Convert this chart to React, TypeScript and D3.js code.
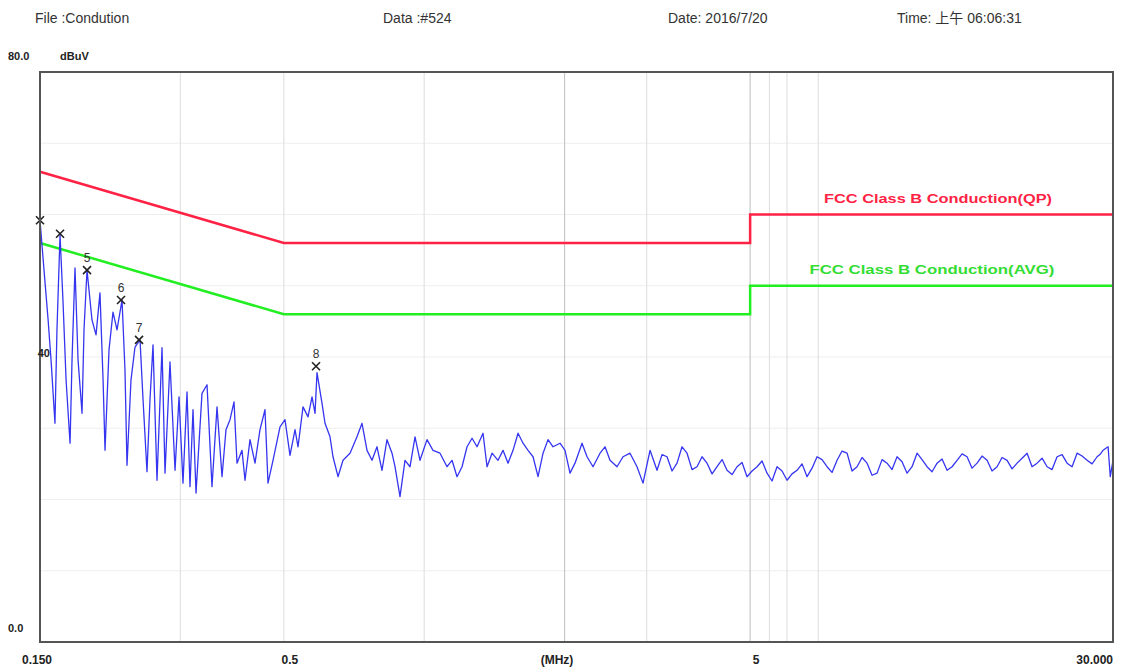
import * as d3 from 'd3';

const W = 1125;
const H = 670;
const margin = { top: 72, right: 12, bottom: 28, left: 40 };

// header of the receiver printout
const headerLabels = ['File :Condution', 'Data :#524', 'Date: 2016/7/20', 'Time: 上午 06:06:31'];

const traceMHz = [
  0.15, 0.153, 0.156, 0.1584, 0.1615, 0.1631, 0.1656, 0.168, 0.1706, 0.174, 0.1757, 0.1783,
  0.181, 0.1846, 0.1864, 0.1892, 0.1939, 0.1978, 0.2017, 0.2048, 0.2068, 0.2109, 0.2151, 0.2194,
  0.2249, 0.2282, 0.2305, 0.2351, 0.2398, 0.2458, 0.2495, 0.2544, 0.2582, 0.2621, 0.2673, 0.274,
  0.2781, 0.285, 0.2922, 0.298, 0.3039, 0.31, 0.3146, 0.3193, 0.3241, 0.3338, 0.3422, 0.3507,
  0.3595, 0.3685, 0.3758, 0.3833, 0.391, 0.3968, 0.4067, 0.4128, 0.4231, 0.4337, 0.4445, 0.4556,
  0.4624, 0.474, 0.4907, 0.5029, 0.5155, 0.5284, 0.5363, 0.5497, 0.5634, 0.5747, 0.5833, 0.589,
  0.6038, 0.6128, 0.6281, 0.6374, 0.6534, 0.6697, 0.6933, 0.7176, 0.7356, 0.754, 0.7728, 0.7921,
  0.8119, 0.8322, 0.8531, 0.8658, 0.8874, 0.9096, 0.9324, 0.9557, 0.9795, 1.014, 1.0444, 1.0812,
  1.1193, 1.1473, 1.176, 1.2054, 1.2356, 1.2665, 1.2981, 1.337, 1.3638, 1.3979, 1.4399, 1.4759,
  1.5128, 1.5506, 1.5894, 1.6291, 1.6699, 1.7116, 1.7544, 1.7983, 1.8432, 1.8893, 1.9554, 2.0043,
  2.0544, 2.1058, 2.18, 2.2345, 2.3016, 2.3826, 2.4422, 2.5032, 2.5911, 2.6693, 2.763, 2.8602,
  2.946, 3.0499, 3.157, 3.236, 3.317, 3.4, 3.485, 3.572, 3.6614, 3.753, 3.8467, 3.943,
  4.0415, 4.143, 4.2461, 4.353, 4.461, 4.573, 4.6869, 4.804, 4.9242, 5.047, 5.1735, 5.303,
  5.4354, 5.571, 5.7105, 5.853, 5.9997, 6.149, 6.3033, 6.461, 6.6225, 6.788, 6.9578, 7.131,
  7.31, 7.492, 7.68, 7.872, 8.0688, 8.27, 8.4773, 8.689, 8.9066, 9.129, 9.3575, 9.591,
  9.8312, 10.076, 10.329, 10.586, 10.852, 11.122, 11.401, 11.685, 11.978, 12.277, 12.585, 12.898,
  13.222, 13.551, 13.891, 14.237, 14.595, 14.958, 15.334, 15.715, 16.11, 16.511, 16.926, 17.347,
  17.783, 18.225, 18.683, 19.147, 19.629, 20.117, 20.622, 21.135, 21.666, 22.205, 22.763, 23.329,
  23.915, 24.51, 25.126, 25.751, 26.398, 27.055, 27.735, 28.2, 28.56, 29.28, 29.6, 30.0,
];
const traceDb = [
  59.2, 52.2, 45.5, 39.6, 30.7, 43.8, 57.1, 48.0, 36.8, 27.9, 39.6, 52.5,
  39.6, 32.1, 43.8, 52.2, 45.2, 43.1, 49.0, 36.8, 26.9, 41.0, 46.3, 43.8,
  48.0, 38.2, 24.8, 36.8, 41.4, 42.4, 34.0, 23.9, 34.0, 41.7, 22.7, 41.3,
  23.7, 39.3, 24.1, 34.4, 22.3, 35.1, 21.8, 32.6, 20.9, 34.9, 36.1, 21.8,
  33.0, 23.2, 29.8, 31.2, 33.7, 25.1, 26.9, 22.7, 28.4, 25.1, 29.8, 32.6,
  22.3, 25.5, 30.2, 31.2, 26.2, 29.8, 27.4, 33.0, 31.6, 34.4, 32.1, 37.8,
  33.5, 30.7, 28.8, 26.0, 23.2, 25.5, 26.5, 28.8, 30.7, 26.9, 25.5, 27.4,
  24.1, 28.4, 26.5, 24.6, 20.4, 25.5, 24.6, 28.8, 25.5, 28.4, 26.9, 26.5,
  24.6, 25.5, 23.2, 24.6, 27.4, 28.6, 27.4, 29.3, 24.6, 26.5, 25.5, 26.9,
  25.1, 26.9, 29.3, 27.9, 26.9, 26.0, 23.2, 26.5, 28.4, 27.4, 27.9, 26.9,
  23.7, 25.1, 27.9, 26.0, 24.6, 26.5, 27.4, 25.5, 24.6, 26.0, 26.5, 24.6,
  22.3, 26.9, 24.1, 26.3, 26.0, 24.0, 25.1, 27.4, 26.5, 24.2, 24.6, 26.0,
  25.1, 23.6, 24.6, 25.6, 24.1, 23.5, 24.6, 25.2, 23.2, 24.0, 24.6, 25.4,
  23.7, 22.6, 24.6, 24.0, 22.7, 23.6, 24.1, 25.0, 23.2, 24.4, 26.0, 25.6,
  24.6, 23.8, 25.5, 26.8, 26.5, 24.0, 24.6, 25.9, 25.1, 23.4, 23.7, 25.6,
  25.1, 24.2, 26.0, 25.3, 23.7, 24.6, 26.5, 25.6, 24.6, 23.9, 25.1, 25.7,
  24.1, 24.6, 25.5, 26.4, 26.0, 24.4, 25.1, 26.1, 25.5, 24.0, 24.6, 25.9,
  25.5, 24.3, 25.1, 25.8, 26.5, 24.6, 25.1, 25.8, 24.6, 24.2, 26.0, 26.3,
  25.1, 24.6, 26.5, 26.1, 25.5, 25.0, 26.0, 26.4, 26.9, 27.4, 23.2, 25.5,
];

// FCC Class B conducted limits
const qpFreq = [0.15, 0.5, 5, 5, 30];
const qpLimit = [66, 56, 56, 60, 60];
const avgFreq = [0.15, 0.5, 5, 5, 30];
const avgLimit = [56, 46, 46, 50, 50];
const limitNames = ['FCC Class B Conduction(QP)', 'FCC Class B Conduction(AVG)'];

// peak markers
const markerMHz = [0.15, 0.1656, 0.1892, 0.2238, 0.2446, 0.5862];
const markerDb = [59.2, 57.3, 52.2, 48.0, 42.4, 38.7];
const markerLabels = ['', '', '5', '6', '7', '8'];

const xTicks = [0.15, 0.5, 5, 30];
const xTickLabels = ['0.150', '0.5', '5', '30.000'];
const yTicks = [80, 40, 0];
const yTickLabels = ['80.0', '40', '0.0'];
const gridMHz = [0.3, 0.5, 1, 2, 3, 5, 5.5, 6, 7];
const strongGridMHz = [2, 5];
const gridDb = [10, 20, 30, 40, 50, 60, 70];

const FONT = '"Liberation Sans", Arial, "Noto Sans CJK SC", sans-serif';

export default function App() {
  const x = d3.scaleLog().domain([0.15, 30]).range([margin.left, W - margin.right]);
  const y = d3.scaleLinear().domain([0, 80]).range([H - margin.bottom, margin.top]);

  const line = d3
    .line<[number, number]>()
    .x((d) => x(d[0]))
    .y((d) => y(d[1]));

  const trace = traceMHz.map((f, i) => [f, traceDb[i]] as [number, number]);
  const qp = qpFreq.map((f, i) => [f, qpLimit[i]] as [number, number]);
  const avg = avgFreq.map((f, i) => [f, avgLimit[i]] as [number, number]);

  const headerX = [35, 383, 668, 897];

  return (
    <svg
      width={W}
      height={H}
      style={{ position: 'absolute', left: 0, top: 0, background: '#fff' }}
      fontFamily={FONT}
    >
      {headerLabels.map((t, i) => (
        <text key={t} x={headerX[i]} y={23} fontSize={14} fill="#333">
          {t}
        </text>
      ))}

      {/* grid */}
      {gridDb.map((v) => (
        <line key={'h' + v} x1={x(0.15)} x2={x(30)} y1={y(v)} y2={y(v)} stroke="#eeeeee" strokeWidth={1} />
      ))}
      {gridMHz.map((f) => (
        <line
          key={'v' + f}
          x1={x(f)}
          x2={x(f)}
          y1={y(80)}
          y2={y(0)}
          stroke={strongGridMHz.includes(f) ? '#c8c8c8' : '#e2e2e2'}
          strokeWidth={1.2}
        />
      ))}

      {/* limits */}
      <path d={line(qp) || ''} fill="none" stroke="#ff2244" strokeWidth={2.5} />
      <path d={line(avg) || ''} fill="none" stroke="#22ee22" strokeWidth={2.5} />
      <text
        x={x(7.2)}
        y={y(61.6)}
        fontSize={13}
        fontWeight="bold"
        fill="#ff2244"
        textLength={228}
        lengthAdjust="spacingAndGlyphs"
      >
        {limitNames[0]}
      </text>
      <text
        x={x(6.7)}
        y={y(51.6)}
        fontSize={13}
        fontWeight="bold"
        fill="#33dd33"
        textLength={245}
        lengthAdjust="spacingAndGlyphs"
      >
        {limitNames[1]}
      </text>

      {/* trace */}
      <path d={line(trace) || ''} fill="none" stroke="#3535f0" strokeWidth={1.3} strokeLinejoin="round" />

      {/* markers */}
      {markerMHz.map((f, i) => (
        <g key={'m' + i} transform={`translate(${x(f)},${y(markerDb[i])})`}>
          <path d="M-4,-4L4,4M-4,4L4,-4" stroke="#222" strokeWidth={1.6} />
          {markerLabels[i] && (
            <text y={-8} textAnchor="middle" fontSize={12} fill="#333">
              {markerLabels[i]}
            </text>
          )}
        </g>
      ))}

      {/* frame */}
      <rect
        x={x(0.15)}
        y={y(80)}
        width={x(30) - x(0.15)}
        height={y(0) - y(80)}
        fill="none"
        stroke="#555"
        strokeWidth={2}
      />

      {/* y axis labels */}
      <text x={8} y={y(yTicks[0]) - 12} fontSize={11} fontWeight="bold" fill="#222">
        {yTickLabels[0]}
      </text>
      <text x={60} y={y(yTicks[0]) - 12} fontSize={11} fontWeight="bold" fill="#222">
        dBuV
      </text>
      <text x={50} y={y(yTicks[1])} fontSize={11} fontWeight="bold" fill="#222" textAnchor="end">
        {yTickLabels[1]}
      </text>
      <text x={8} y={y(yTicks[2]) - 10} fontSize={11} fontWeight="bold" fill="#222">
        {yTickLabels[2]}
      </text>

      {/* x axis labels */}
      {xTicks.map((f, i) => (
        <text
          key={'xt' + f}
          x={i === xTicks.length - 1 ? x(f) : x(f) + (i === 0 ? -3 : 6)}
          y={664}
          fontSize={12}
          fontWeight="bold"
          fill="#222"
          textAnchor={i === xTicks.length - 1 ? 'end' : 'middle'}
        >
          {xTickLabels[i]}
        </text>
      ))}
      <text x={557} y={664} fontSize={12} fontWeight="bold" fill="#222" textAnchor="middle">
        (MHz)
      </text>
    </svg>
  );
}
